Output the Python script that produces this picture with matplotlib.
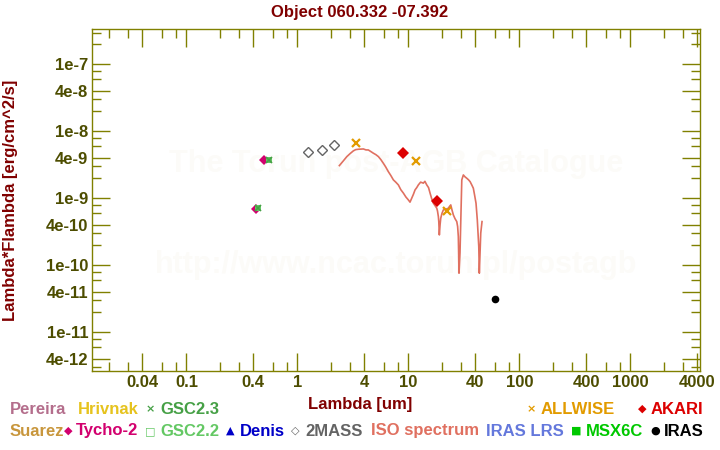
import matplotlib
matplotlib.use("Agg")
import matplotlib.pyplot as plt
from matplotlib.ticker import FixedLocator, FixedFormatter, NullFormatter

plt.rcParams['font.family'] = ['Liberation Sans', 'DejaVu Sans']
plt.rcParams['font.weight'] = 'bold'

# --- data ---
title = "Object 060.332 -07.392"

tycho_wave = [0.425, 0.50]
tycho_flux = [6.9e-10, 3.8e-9]

gsc22_wave = [0.445, 0.55]
gsc22_flux = [7.1e-10, 3.7e-9]

gsc23_wave = [0.445, 0.55]
gsc23_flux = [7.1e-10, 3.7e-9]

tmass_wave = [1.235, 1.662, 2.159]
tmass_flux = [5.0e-9, 5.24e-9, 6.3e-9]

allwise_wave = [3.35, 11.6, 22.1]
allwise_flux = [6.67e-9, 3.59e-9, 6.58e-10]

akari_wave = [9.0, 18.0]
akari_flux = [4.73e-9, 9.08e-10]

iras_wave = [60.0]
iras_flux = [3.13e-11]

iso_wave = [2.39, 2.6, 2.79, 3.0, 3.19, 3.35, 3.54, 3.75, 3.93, 4.15, 4.36, 4.6,
            4.84, 5.1, 5.37, 5.65, 5.95, 6.25, 6.60, 6.95, 7.33, 7.7, 8.13, 8.55,
            9.02, 9.5, 10.0, 10.35, 10.73, 11.1, 11.49, 11.9, 12.3, 12.9, 13.65,
            14.1, 14.65, 15.2, 15.69, 16.2, 16.8, 17.4, 18.03, 18.3, 18.64, 18.8,
            19.02, 19.3, 19.58, 20.1, 20.67, 21.8, 22.93, 23.5, 24.1, 24.8, 25.43,
            26.3, 27.3, 27.8, 28.2, 28.6, 29.2, 30.3, 31.3, 32.4, 33.6, 34.8, 36.0,
            37.2, 38.5, 39.6, 40.7, 41.8, 43.1, 43.6, 44.9, 46.1]
iso_flux = [3.09e-9, 3.65e-9, 4.21e-9, 4.7e-9, 5.12e-9, 5.35e-9, 5.42e-9, 5.45e-9,
            5.48e-9, 5.3e-9, 5.29e-9, 5.0e-9, 4.73e-9, 4.5e-9, 4.21e-9, 3.8e-9,
            3.35e-9, 2.95e-9, 2.51e-9, 2.2e-9, 1.89e-9, 1.75e-9, 1.59e-9, 1.35e-9,
            1.2e-9, 1.05e-9, 9.5e-10, 8.8e-10, 1.01e-9, 1.15e-9, 1.34e-9, 1.45e-9,
            1.59e-9, 1.75e-9, 1.69e-9, 1.8e-9, 1.59e-9, 1.45e-9, 1.2e-9, 1.0e-9,
            8.48e-10, 7.8e-10, 7.14e-10, 6.5e-10, 5.35e-10, 4.5e-10, 2.85e-10,
            4.0e-10, 5.06e-10, 6.0e-10, 6.73e-10, 6.9e-10, 7.14e-10, 7.6e-10,
            8.0e-10, 6.6e-10, 5.68e-10, 5.0e-10, 4.51e-10, 3.8e-10, 2.69e-10,
            7.65e-11, 1.54e-10, 1.89e-9, 2.24e-9, 2.1e-9, 2.0e-9, 1.9e-9, 1.78e-9,
            1.6e-9, 1.42e-9, 1.1e-9, 8.48e-10, 4.78e-10, 1.91e-10, 7.65e-11,
            3.03e-10, 4.51e-10]

xtick_vals = [0.04, 0.1, 0.4, 1, 4, 10, 40, 100, 400, 1000, 4000]
xtick_labels = ["0.04", "0.1", "0.4", "1", "4", "10", "40", "100", "400", "1000", "4000"]
ytick_vals = [1e-7, 4e-8, 1e-8, 4e-9, 1e-9, 4e-10, 1e-10, 4e-11, 1e-11, 4e-12]
ytick_labels = ["1e-7", "4e-8", "1e-8", "4e-9", "1e-9", "4e-10", "1e-10", "4e-11", "1e-11", "4e-12"]

# legend: (symbol, symbol x, label, label x, row y, colour) in pixels
legend_items = [
    ("", 0, "Pereira", 10, 409, "#b46e8c"),
    ("", 0, "Hrivnak", 78, 409, "#e6c31e"),
    ("\u00d7", 150, "GSC2.3", 160, 409, "#46a046"),
    ("\u00d7", 531, "ALLWISE", 541, 409, "#e29b00"),
    ("\u25c6", 642, "AKARI", 651, 409, "#dc0000"),
    ("", 0, "Suarez", 10, 431, "#c8963c"),
    ("\u25c6", 68, "Tycho-2", 76, 431, "#d2006e"),
    ("\u25a1", 150, "GSC2.2", 160, 431, "#64c864"),
    ("\u25b2", 230, "Denis", 240, 431, "#0000c8"),
    ("\u25c7", 295, "2MASS", 305, 431, "#646464"),
    ("", 0, "ISO spectrum", 371, 431, "#e07060"),
    ("", 0, "IRAS LRS", 486, 431, "#6478dc"),
    ("\u25a0", 576, "MSX6C", 586, 431, "#00c800"),
    ("\u25cf", 655, "IRAS", 664, 431, "#000000"),
]

W, H = 720, 450
olive = "#808000"
maroon = "#800000"
ticktxt = "#4d4d00"

fig = plt.figure(figsize=(7.2, 4.5), dpi=100)
ax = fig.add_axes([92.3 / W, 1 - 371 / H, (699.5 - 92.3) / W, (371 - 29.3) / H])
ax.set_xscale("log")
ax.set_yscale("log")
ax.set_xlim(0.0142, 4200)
ax.set_ylim(2.65e-12, 3.35e-7)

# watermark
ax.text(0.5, 0.605, "The Torun post-AGB Catalogue", transform=ax.transAxes,
        ha="center", va="center", fontsize=22, color="#fcfbf8", zorder=0)
ax.text(0.5, 0.31, "http://www.ncac.torun.pl/postagb", transform=ax.transAxes,
        ha="center", va="center", fontsize=22, color="#fcfbf8", zorder=0)

ax.plot(iso_wave, iso_flux, color="#e07060", lw=1.2, zorder=2)
ax.plot(tycho_wave, tycho_flux, "D", color="#d2006e", ms=5, mew=0, zorder=3)
ax.plot(gsc22_wave, gsc22_flux, "s", color="#64c864", ms=5, mew=0, zorder=4)
ax.plot(gsc23_wave, gsc23_flux, "x", color="#46a046", ms=4, mew=1.2, zorder=5)
ax.plot(tmass_wave, tmass_flux, "D", mfc="none", mec="#646464", ms=5, mew=1, zorder=3)
ax.plot(allwise_wave, allwise_flux, "x", color="#e29b00", ms=6, mew=1.6, zorder=4)
ax.plot(akari_wave, akari_flux, "D", color="#dc0000", ms=6, mew=0, zorder=3)
ax.plot(iras_wave, iras_flux, "o", color="#000000", ms=5.5, mew=0, zorder=3)

ax.xaxis.set_major_locator(FixedLocator(xtick_vals))
ax.xaxis.set_major_formatter(FixedFormatter(xtick_labels))
xminor = [m * 10.0 ** e for e in range(-2, 4) for m in (2, 3, 6, 8)]
ax.xaxis.set_minor_locator(FixedLocator(xminor))
ax.xaxis.set_minor_formatter(NullFormatter())

ax.yaxis.set_major_locator(FixedLocator(ytick_vals))
ax.yaxis.set_major_formatter(FixedFormatter(ytick_labels))
yminor = [m * 10.0 ** e for e in range(-12, -6) for m in (2, 3, 6, 8)]
ax.yaxis.set_minor_locator(FixedLocator(yminor))
ax.yaxis.set_minor_formatter(NullFormatter())

ax.tick_params(which="both", direction="in", top=True, right=True, color=olive, width=1)
ax.tick_params(which="major", length=13, labelsize=12, labelcolor=ticktxt, pad=3)
ax.tick_params(which="minor", length=6.5)
for lab in ax.get_xticklabels() + ax.get_yticklabels():
    lab.set_fontweight("bold")
for sp in ax.spines.values():
    sp.set_color(olive)
    sp.set_linewidth(1)

fig.text(0.5, 1 - 12 / H, title, ha="center", va="center", fontsize=12, color=maroon)
fig.text(0.5, 1 - 405 / H, "Lambda [um]", ha="center", va="center", fontsize=12, color=maroon)
fig.text(11 / W, 1 - 200 / H, "Lambda*Flambda [erg/cm^2/s]", rotation=90,
         ha="center", va="center", fontsize=12, color=maroon)

for sym, sx, label, lx, ly, col in legend_items:
    if sym:
        fig.text(sx / W, 1 - ly / H, sym, ha="center", va="center", fontsize=8,
                 color=col, family=["DejaVu Sans"])
    fig.text(lx / W, 1 - ly / H, label, ha="left", va="center", fontsize=12, color=col)

fig.savefig("out.png", dpi=100)
